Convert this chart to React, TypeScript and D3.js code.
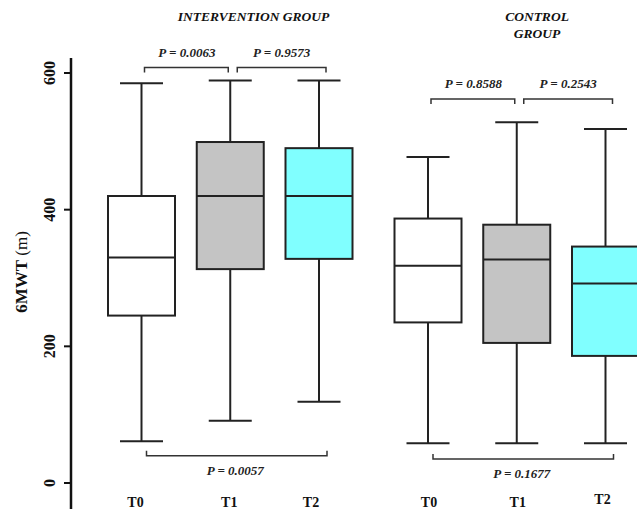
import * as d3 from 'd3';

const groups = ['INTERVENTION', 'CONTROL'];
const times = ['T0', 'T1', 'T2'];
const fills = ['#ffffff', '#c4c4c4', '#80ffff'];
const yTicks = [0, 200, 400, 600];

// box stats per group, one value per time point
const lowWhisker = [[61, 91, 119], [58, 58, 58]];
const q1 = [[245, 313, 328], [235, 205, 186]];
const median = [[330, 420, 420], [318, 327, 292]];
const q3 = [[420, 499, 490], [387, 378, 346]];
const highWhisker = [[585, 589, 589], [477, 528, 518]];

// p-values: T0 vs T1, T1 vs T2, T0 vs T2
const pValues = [['0.0063', '0.9573', '0.0057'], ['0.8588', '0.2543', '0.1677']];

const W = 637;
const H = 509;
const serif = '"Liberation Serif", "DejaVu Serif", serif';
const ink = '#222';

// small nudges of the time labels, as in the original figure
const labelDx = [[-6, -1, -8], [1, 1, -3]];
const labelDy = [[0, 0, 0], [0, 0, -3]];

const App = () => {
  const y = d3.scaleLinear().domain([0, 600]).range([483, 73]);
  const gx = d3.scalePoint<string>().domain(groups).range([230.5, 517]);
  const tx = d3.scalePoint<string>().domain(times).range([-89, 88.5]);
  const cx = (g: string, t: string) => (gx(g) ?? 0) + (tx(t) ?? 0);

  const boxW = 67;
  const capW = 43;
  const topLevel = [y(608), y(562)];
  const bottomLevel = [y(40), y(35)];
  const labelTop = [57, 88];

  const bracket = (x0: number, x1: number, yy: number, dir: number) =>
    `M${x0},${yy + dir * 5}V${yy}H${x1}V${yy + dir * 5}`;

  return (
    <svg
      width={W}
      height={H}
      style={{ position: 'absolute', left: 0, top: 0, background: '#fff' }}
      fontFamily={serif}
    >
      {/* y axis */}
      <line x1={71} x2={71} y1={58} y2={H} stroke="#111" strokeWidth={2.5} />
      {yTicks.map((v) => (
        <g key={v} transform={`translate(71,${y(v)})`}>
          <line x1={-7} x2={0} stroke="#111" strokeWidth={2} />
          <text
            transform="translate(-16.5,0) rotate(-90)"
            textAnchor="middle"
            fontSize={16}
            fontWeight="bold"
            fill="#111"
          >
            {v}
          </text>
        </g>
      ))}
      <text
        transform={`translate(27,272) rotate(-90)`}
        textAnchor="middle"
        fontSize={17}
        fill="#111"
      >
        <tspan fontWeight="bold">6MWT</tspan> (m)
      </text>

      {groups.map((g, gi) => (
        <g key={g}>
          {/* group title */}
          {gi === 0 ? (
            <text x={(gx(g) ?? 0) + 23} y={21} textAnchor="middle" fontSize={13.5}
              fontWeight="bold" fontStyle="italic" fill="#111">
              INTERVENTION GROUP
            </text>
          ) : (
            <text x={(gx(g) ?? 0) + 20} y={21} textAnchor="middle" fontSize={13.5}
              fontWeight="bold" fontStyle="italic" fill="#111">
              <tspan x={(gx(g) ?? 0) + 20}>CONTROL</tspan>
              <tspan x={(gx(g) ?? 0) + 20} dy={17}>GROUP</tspan>
            </text>
          )}

          {times.map((t, ti) => {
            const c = cx(g, t);
            return (
              <g key={t} stroke={ink} strokeWidth={2}>
                <line x1={c} x2={c} y1={y(highWhisker[gi][ti])} y2={y(q3[gi][ti])} />
                <line x1={c} x2={c} y1={y(q1[gi][ti])} y2={y(lowWhisker[gi][ti])} />
                <line x1={c - capW / 2} x2={c + capW / 2} y1={y(highWhisker[gi][ti])} y2={y(highWhisker[gi][ti])} />
                <line x1={c - capW / 2} x2={c + capW / 2} y1={y(lowWhisker[gi][ti])} y2={y(lowWhisker[gi][ti])} />
                <rect
                  x={c - boxW / 2}
                  y={y(q3[gi][ti])}
                  width={boxW}
                  height={y(q1[gi][ti]) - y(q3[gi][ti])}
                  fill={fills[ti]}
                />
                <line x1={c - boxW / 2} x2={c + boxW / 2} y1={y(median[gi][ti])} y2={y(median[gi][ti])} />
                <text
                  x={c + labelDx[gi][ti]}
                  y={507 + labelDy[gi][ti]}
                  textAnchor="middle"
                  fontSize={14}
                  fontWeight="bold"
                  fill="#111"
                  stroke="none"
                >
                  {t}
                </text>
              </g>
            );
          })}

          {/* comparison brackets */}
          <g fill="none" stroke="#333" strokeWidth={1.5}>
            <path d={bracket(cx(g, 'T0') + 3, cx(g, 'T1') - 2, topLevel[gi], 1)} />
            <path d={bracket(cx(g, 'T1') + 7, cx(g, 'T2') + 7, topLevel[gi], 1)} />
            <path d={bracket(cx(g, 'T0') + 5, cx(g, 'T2') + 8, bottomLevel[gi], -1)} />
          </g>
          <g fontSize={13} fontWeight="bold" fontStyle="italic" fill="#222" textAnchor="middle">
            <text x={(cx(g, 'T0') + cx(g, 'T1')) / 2 + 1} y={labelTop[gi]}>P = {pValues[gi][0]}</text>
            <text x={(cx(g, 'T1') + cx(g, 'T2')) / 2 + 7} y={labelTop[gi]}>P = {pValues[gi][1]}</text>
            <text x={(cx(g, 'T0') + cx(g, 'T2')) / 2 + 5} y={bottomLevel[gi] + 19}>P = {pValues[gi][2]}</text>
          </g>
        </g>
      ))}
    </svg>
  );
};

export default App;
